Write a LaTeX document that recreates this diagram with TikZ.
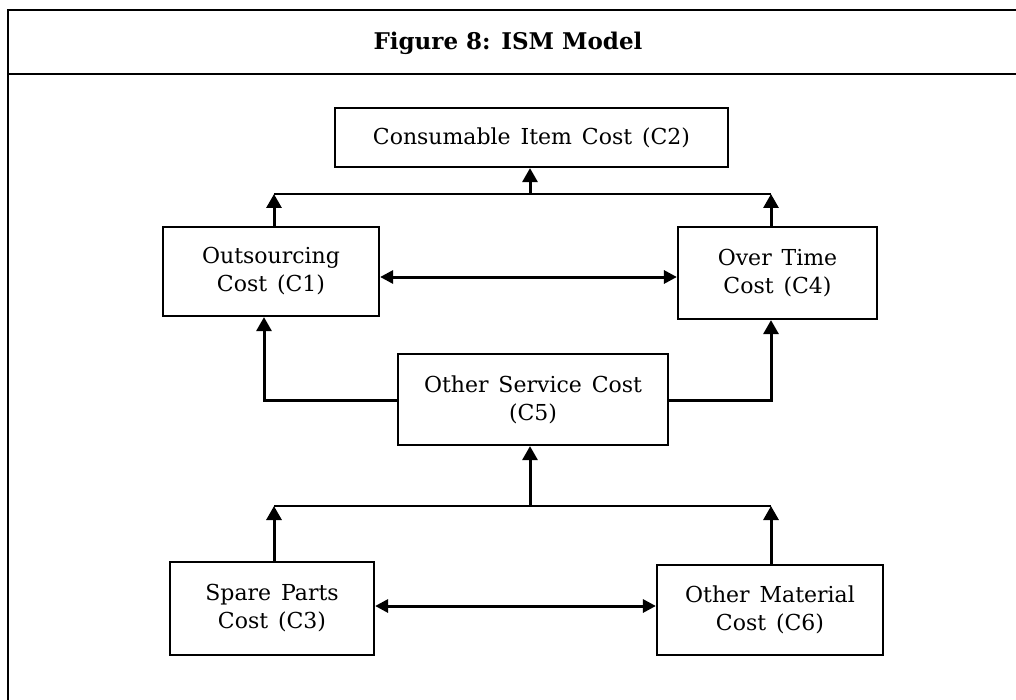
\documentclass[tikz,border=0pt]{standalone}
\usepackage{fontspec}
\setmainfont{DejaVu Serif}
\usetikzlibrary{arrows.meta,calc,positioning}

\newcommand{\boxfont}{\fontsize{11}{14}\selectfont\fontdimen2\font=0.45em}

\tikzset{
  costbox/.style={draw,line width=1.1pt,align=center,inner sep=0pt,font=\boxfont},
  link/.style={line width=1.5pt,-{Triangle[length=7pt,width=7.5pt]}},
  duallink/.style={line width=1.5pt,{Triangle[length=6.5pt,width=6.5pt]}-{Triangle[length=6.5pt,width=6.5pt]}},
  bus/.style={line width=1.1pt},
}

\begin{document}
\begin{tikzpicture}[x=0.5pt,y=-0.5pt]
      \useasboundingbox (0,0) rectangle (1016,700);
      % frame and heading
      \draw[line width=0.8pt] (1016,10) -- (8,10) -- (8,700);
      \draw[line width=0.8pt] (8,74) -- (1016,74);
      \node[font=\fontsize{11.5}{13}\bfseries\selectfont] (title) at (508,43) {Figure 8: ISM Model};

      % cost elements
      \node[costbox,minimum width=196.5pt,minimum height=29.5pt] (c2) at (531.5,137.5) {Consumable Item Cost (C2)};
      \node[costbox,minimum width=108pt,minimum height=44.5pt] (c1) at (271,271.5) {Outsourcing\\Cost (C1)};
      \node[costbox,minimum width=99.5pt,minimum height=46pt] (c4) at (777.5,273) {Over Time\\Cost (C4)};
      \node[costbox,minimum width=135pt,minimum height=45.5pt] (c5) at (533,399.5) {Other Service Cost\\(C5)};
      \node[costbox,minimum width=102pt,minimum height=46.5pt] (c3) at (272,608.5) {Spare Parts\\Cost (C3)};
      \node[costbox,minimum width=113pt,minimum height=45pt] (c6) at (770,610) {Other Material\\Cost (C6)};

      % junction points
      \coordinate (topL) at (274,194);
      \coordinate (topR) at (771,194);
      \coordinate (lowL) at (274,506);
      \coordinate (lowR) at (771,506);
      \coordinate (sideL) at (264,400);
      \coordinate (midA) at (530,277);
      \coordinate (midB) at (530,606);

      % upper level
      \draw[bus] (topL) -- (topR);
      \draw[link] (c1.north -| topL) -- (topL);
      \draw[link] (c4.north -| topR) -- (topR);
      \draw[link] (topL -| midA) -- (c2.south -| midA);
      \draw[duallink] (c1.east |- midA) -- (c4.west |- midA);

      % C5 feeds C1 and C4
      \draw[link] (c5.west |- sideL) -| (c1.south -| sideL);
      \draw[link] (c5.east |- sideL) -| (c4.south -| topR);

      % lower level
      \draw[bus] (lowL) -- (lowR);
      \draw[link] (c3.north -| lowL) -- (lowL);
      \draw[link] (c6.north -| lowR) -- (lowR);
      \draw[link] (lowL -| midA) -- (c5.south -| midA);
      \draw[duallink] (c3.east |- midB) -- (c6.west |- midB);
\end{tikzpicture}
\end{document}
